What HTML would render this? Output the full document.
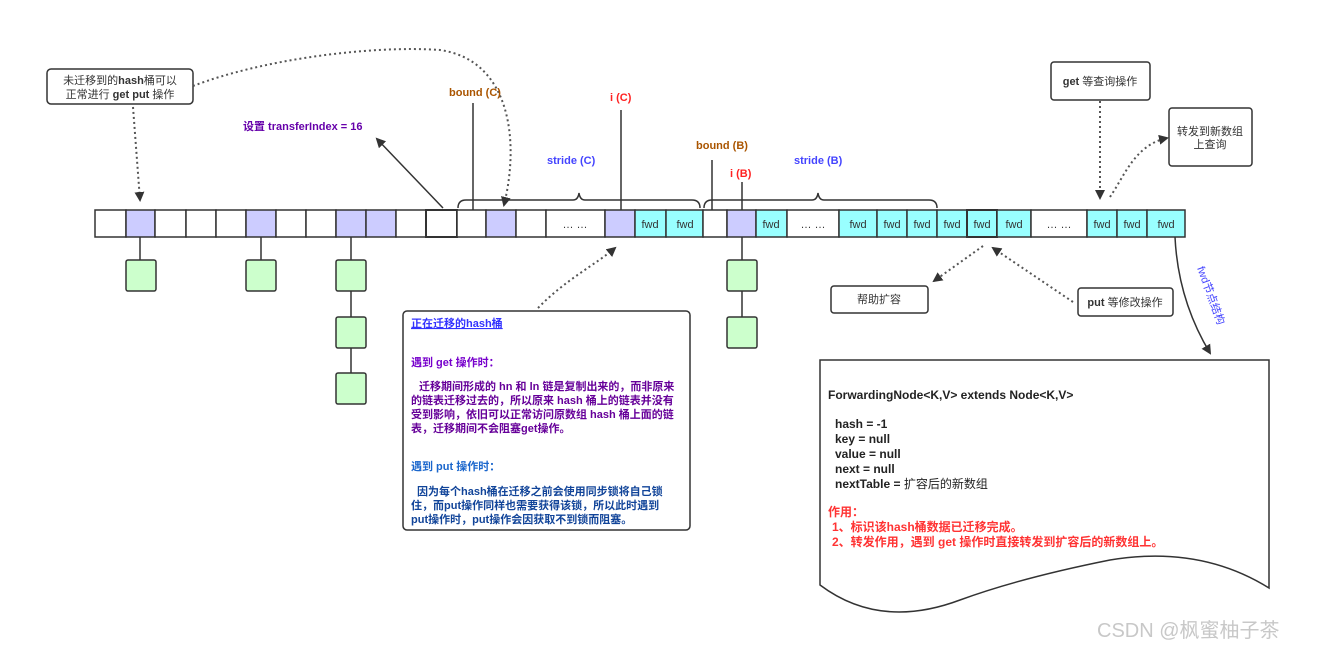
<!DOCTYPE html>
<html><head><meta charset="utf-8"><style>
body{margin:0;background:#fff}
svg{display:block}
text{font-family:"Liberation Sans","Noto Sans CJK SC",sans-serif;white-space:pre}
</style></head><body>
<svg width="1323" height="651" viewBox="0 0 1323 651" xmlns="http://www.w3.org/2000/svg">
<defs>
<marker id="a" markerWidth="10" markerHeight="10" refX="8" refY="5" orient="auto" markerUnits="userSpaceOnUse"><path d="M0,0 L10,5 L0,10 z" fill="#333"/></marker>
</defs>
<g stroke="#333" stroke-width="1.5">
<g font-size="11">
<rect x="95" y="210" width="31" height="27" fill="#fff"/>
<rect x="126" y="210" width="29" height="27" fill="#ccccff"/>
<rect x="155" y="210" width="31" height="27" fill="#fff"/>
<rect x="186" y="210" width="30" height="27" fill="#fff"/>
<rect x="216" y="210" width="30" height="27" fill="#fff"/>
<rect x="246" y="210" width="30" height="27" fill="#ccccff"/>
<rect x="276" y="210" width="30" height="27" fill="#fff"/>
<rect x="306" y="210" width="30" height="27" fill="#fff"/>
<rect x="336" y="210" width="30" height="27" fill="#ccccff"/>
<rect x="366" y="210" width="30" height="27" fill="#ccccff"/>
<rect x="396" y="210" width="30" height="27" fill="#fff"/>
<rect x="426" y="210" width="31" height="27" fill="#fff" stroke-width="2"/>
<rect x="457" y="210" width="29" height="27" fill="#fff"/>
<rect x="486" y="210" width="30" height="27" fill="#ccccff"/>
<rect x="516" y="210" width="30" height="27" fill="#fff"/>
<rect x="546" y="210" width="59" height="27" fill="#fff"/>
<rect x="605" y="210" width="30" height="27" fill="#ccccff"/>
<rect x="635" y="210" width="31" height="27" fill="#99ffff"/>
<rect x="666" y="210" width="37" height="27" fill="#99ffff"/>
<rect x="703" y="210" width="24" height="27" fill="#fff"/>
<rect x="727" y="210" width="29" height="27" fill="#ccccff"/>
<rect x="756" y="210" width="31" height="27" fill="#99ffff"/>
<rect x="787" y="210" width="52" height="27" fill="#fff"/>
<rect x="839" y="210" width="38" height="27" fill="#99ffff"/>
<rect x="877" y="210" width="30" height="27" fill="#99ffff"/>
<rect x="907" y="210" width="30" height="27" fill="#99ffff"/>
<rect x="937" y="210" width="30" height="27" fill="#99ffff"/>
<rect x="967" y="210" width="30" height="27" fill="#99ffff" stroke-width="2"/>
<rect x="997" y="210" width="34" height="27" fill="#99ffff"/>
<rect x="1031" y="210" width="56" height="27" fill="#fff"/>
<rect x="1087" y="210" width="30" height="27" fill="#99ffff"/>
<rect x="1117" y="210" width="30" height="27" fill="#99ffff"/>
<rect x="1147" y="210" width="38" height="27" fill="#99ffff"/>
</g>
<line x1="140" y1="237" x2="140" y2="260"/>
<line x1="261" y1="237" x2="261" y2="260"/>
<line x1="351" y1="237" x2="351" y2="373"/>
<line x1="742" y1="237" x2="742" y2="317"/>
<g fill="#ccffcc">
<rect x="126" y="260" width="30" height="31" rx="2"/>
<rect x="246" y="260" width="30" height="31" rx="2"/>
<rect x="336" y="260" width="30" height="31" rx="2"/>
<rect x="336" y="317" width="30" height="31" rx="2"/>
<rect x="336" y="373" width="30" height="31" rx="2"/>
<rect x="727" y="260" width="30" height="31" rx="2"/>
<rect x="727" y="317" width="30" height="31" rx="2"/>
</g>
<line x1="473" y1="103" x2="473" y2="210"/>
<line x1="621" y1="110" x2="621" y2="210"/>
<line x1="712" y1="160" x2="712" y2="210"/>
<line x1="742" y1="182" x2="742" y2="210"/>
<line x1="443" y1="208" x2="377" y2="139" marker-end="url(#a)"/>
<path d="M458,208 q0,-8 8,-8 H573 q5,0 6,-7 q1,7 6,7 H692 q8,0 8,8" fill="none"/>
<path d="M704,208 q0,-8 8,-8 H812 q5,0 6,-7 q1,7 6,7 H929 q8,0 8,8" fill="none"/>
<rect x="47" y="69" width="146" height="35" rx="4" fill="#fff"/>
<rect x="403" y="311" width="287" height="219" rx="4" fill="#fff"/>
<rect x="1051" y="62" width="99" height="38" rx="3" fill="#fff"/>
<rect x="1169" y="108" width="83" height="58" rx="3" fill="#fff"/>
<rect x="831" y="286" width="97" height="27" rx="3" fill="#fff"/>
<rect x="1078" y="288" width="95" height="28" rx="3" fill="#fff"/>
<path d="M820,360 H1269 V588 Q1200,545 1110,560 Q1020,578 960,600 Q880,630 820,585 Z" fill="#fff"/>
<path d="M1175,237 Q1178,300 1210,353" fill="none" marker-end="url(#a)"/>
</g>
<g stroke="#555" stroke-width="2" stroke-dasharray="2,3" fill="none">
<path d="M133,107 L140,200" marker-end="url(#a)"/>
<path d="M193,86 C260,60 370,45 440,50 C510,60 520,140 504,205" marker-end="url(#a)"/>
<path d="M538,308 C565,280 595,265 615,248" marker-end="url(#a)"/>
<path d="M1100,101 L1100,198" marker-end="url(#a)"/>
<path d="M1110,197 C1125,175 1135,145 1167,138" marker-end="url(#a)"/>
<path d="M983,246 L934,281" marker-end="url(#a)"/>
<path d="M1073,302 L993,248" marker-end="url(#a)"/>
</g>
<g font-size="11" fill="#333" text-anchor="middle">
<text x="575" y="228">… …</text>
<text x="650" y="228">fwd</text><text x="685" y="228">fwd</text>
<text x="771" y="228">fwd</text><text x="813" y="228">… …</text>
<text x="858" y="228">fwd</text><text x="892" y="228">fwd</text><text x="922" y="228">fwd</text>
<text x="952" y="228">fwd</text><text x="982" y="228">fwd</text><text x="1014" y="228">fwd</text>
<text x="1059" y="228">… …</text>
<text x="1102" y="228">fwd</text><text x="1132" y="228">fwd</text><text x="1166" y="228">fwd</text>
</g>
<g font-size="11" font-weight="bold">
<text x="120" y="84" text-anchor="middle" font-weight="normal" fill="#333">未迁移到的<tspan font-weight="bold">hash</tspan>桶可以</text>
<text x="120" y="98" text-anchor="middle" fill="#333"><tspan font-weight="normal">正常进行 </tspan>get put <tspan font-weight="normal">操作</tspan></text>
<text x="243" y="130" fill="#6600aa">设置 transferIndex = 16</text>
<text x="449" y="96" fill="#aa5500">bound (C)</text>
<text x="610" y="101" fill="#ff2222">i (C)</text>
<text x="696" y="149" fill="#aa5500">bound (B)</text>
<text x="730" y="177" fill="#ff2222">i (B)</text>
<text x="547" y="164" fill="#4444ff">stride (C)</text>
<text x="794" y="164" fill="#4444ff">stride (B)</text>
<text x="1100" y="85" text-anchor="middle" fill="#333">get <tspan font-weight="normal">等查询操作</tspan></text>
<text x="1210" y="135" text-anchor="middle" font-weight="normal" fill="#333">转发到新数组</text>
<text x="1210" y="148" text-anchor="middle" font-weight="normal" fill="#333">上查询</text>
<text x="879" y="303" text-anchor="middle" font-weight="normal" fill="#333">帮助扩容</text>
<text x="1125" y="306" text-anchor="middle" fill="#333">put <tspan font-weight="normal">等修改操作</tspan></text>
<text transform="translate(1197,268) rotate(70)" font-weight="normal" fill="#4444ff">fwd节点结构</text>
</g>
<g font-size="11" font-weight="bold">
<text x="411" y="327" fill="#3333ff" text-decoration="underline">正在迁移的hash桶</text>
<text x="411" y="366" fill="#7700cc">遇到 get 操作时：</text>
<g fill="#660099">
<text x="419" y="390">迁移期间形成的 hn 和 ln 链是复制出来的，而非原来</text>
<text x="411" y="404">的链表迁移过去的，所以原来 hash 桶上的链表并没有</text>
<text x="411" y="418">受到影响，依旧可以正常访问原数组 hash 桶上面的链</text>
<text x="411" y="432">表，迁移期间不会阻塞get操作。</text>
</g>
<text x="411" y="470" fill="#1a66cc">遇到 put 操作时：</text>
<g fill="#114499">
<text x="417" y="495">因为每个hash桶在迁移之前会使用同步锁将自己锁</text>
<text x="411" y="509">住，而put操作同样也需要获得该锁，所以此时遇到</text>
<text x="411" y="523">put操作时，put操作会因获取不到锁而阻塞。</text>
</g>
</g>
<g font-size="12" font-weight="bold" fill="#222">
<text x="828" y="399">ForwardingNode&lt;K,V&gt; extends Node&lt;K,V&gt;</text>
<text x="835" y="428">hash = -1</text>
<text x="835" y="443">key = null</text>
<text x="835" y="458">value = null</text>
<text x="835" y="473">next = null</text>
<text x="835" y="488">nextTable = <tspan font-weight="normal">扩容后的新数组</tspan></text>
<g fill="#ff3333">
<text x="828" y="516">作用：</text>
<text x="832" y="531">1、标识该hash桶数据已迁移完成。</text>
<text x="832" y="546">2、转发作用，遇到 get 操作时直接转发到扩容后的新数组上。</text>
</g>
</g>
<text x="1097" y="637" font-size="20" fill="#c8c8c8">CSDN @枫蜜柚子茶</text>
</svg>
</body></html>
